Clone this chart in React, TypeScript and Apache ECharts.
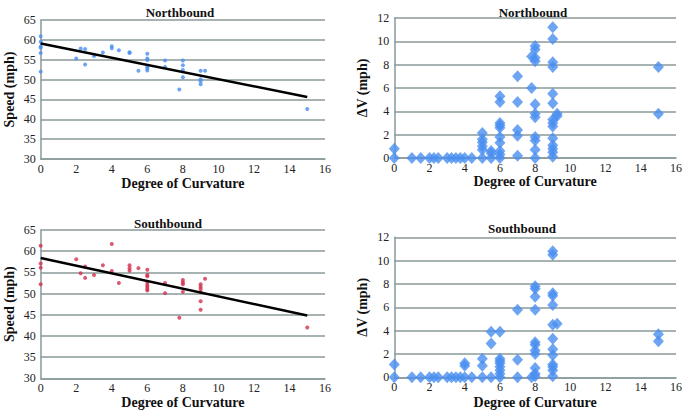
import React, { useEffect, useRef } from "react";
import * as echarts from "echarts";

// Northbound speed vs degree of curvature [x, speed]
const nbSpeedPoints: number[][] = [
  [0, 60.9], [0, 59.5], [0, 58.3], [0, 58.0], [0, 56.7], [0, 52.0],
  [2, 55.3], [2.25, 57.8], [2.5, 57.7], [2.5, 53.8], [3, 55.9], [3.5, 56.8],
  [4, 58.4], [4, 57.9], [4.4, 57.4], [5, 56.9], [5, 56.7], [5.5, 52.2],
  [6, 56.5], [6, 55.3], [6, 54.9], [6, 53.2], [6, 52.8], [6, 52.3],
  [7, 54.8], [7, 53.2], [7.8, 47.5], [8, 54.8], [8, 53.6], [8, 52.4], [8, 50.6],
  [9, 52.2], [9, 50.1], [9, 49.6], [9, 48.8], [9.25, 52.2], [15, 42.6],
];
const nbTrend: number[][] = [[0, 59.1], [15, 45.6]];

// Northbound delta V [x, dV]
const nbDeltaPoints: number[][] = [
  [0, 0], [0, 0.8], [1, 0], [1.5, 0], [2, 0], [2.25, 0], [2.5, 0], [3, 0], [3.25, 0],
  [3.5, 0], [3.75, 0], [4, 0], [4.4, 0],
  [5, 0], [5, 0.7], [5, 1.0], [5, 1.35], [5, 1.6], [5, 2.15],
  [5.5, 0], [5.5, 0.4], [5.5, 0.6],
  [6, 0], [6, 0.3], [6, 0.6], [6, 1.3], [6, 1.8], [6, 2.6], [6, 2.8], [6, 3.0], [6, 4.8], [6, 5.3],
  [7, 0.2], [7, 1.9], [7, 2.4], [7, 4.8], [7, 7.0],
  [7.8, 6.0], [7.8, 8.7],
  [8, 0], [8, 0.7], [8, 1.5], [8, 1.8], [8, 3.5], [8, 3.8], [8, 4.6], [8, 8.3], [8, 8.6], [8, 9.3], [8, 9.6],
  [9, 0.1], [9, 0.5], [9, 0.8], [9, 1.1], [9, 1.7], [9, 2.7], [9, 3.0], [9, 3.3], [9, 4.7], [9, 5.5],
  [9, 7.8], [9, 8.2], [9, 10.2], [9, 11.2],
  [9.25, 3.6], [9.25, 3.8], [15, 3.8], [15, 7.8],
];

// Southbound speed [x, speed]
const sbSpeedPoints: number[][] = [
  [0, 61.3], [0, 57.1], [0, 56.1], [0, 52.2], [2, 58.1], [2.25, 54.8], [2.5, 56.4], [2.5, 53.7],
  [3, 54.4], [3.5, 56.7], [4, 61.7], [4, 55.3], [4.4, 52.5], [5, 56.7], [5, 56.0], [5, 55.4],
  [5.5, 56.0], [6, 55.6], [6, 54.4], [6, 54.1], [6, 52.6], [6, 52.0], [6, 51.6], [6, 51.1], [6, 50.7],
  [7, 52.5], [7, 50.1], [7.8, 44.3], [8, 53.2], [8, 52.6], [8, 52.2], [8, 50.4],
  [9, 52.2], [9, 51.6], [9, 51.1], [9, 50.4], [9, 48.2], [9, 46.2], [9.25, 53.5], [15, 42.0],
];
const sbTrend: number[][] = [[0, 58.4], [15, 44.8]];

// Southbound delta V [x, dV]
const sbDeltaPoints: number[][] = [
  [0, 0], [0, 1.1], [1, 0], [1.5, 0], [2, 0], [2.25, 0], [2.5, 0], [3, 0], [3.25, 0],
  [3.5, 0], [3.75, 0], [4, 0], [4, 1.0], [4, 1.2], [4.4, 0],
  [5, 0], [5, 1.0], [5, 1.6], [5.5, 0], [5.5, 2.9], [5.5, 3.9],
  [6, 0], [6, 0.3], [6, 0.6], [6, 0.9], [6, 1.2], [6, 1.4], [6, 1.6], [6, 3.9],
  [7, 0], [7, 1.5], [7, 5.8], [7.8, 0],
  [8, 0.1], [8, 0.3], [8, 0.8], [8, 2.0], [8, 2.3], [8, 2.8], [8, 3.0], [8, 5.8], [8, 6.9], [8, 7.6], [8, 7.8],
  [9, 0.1], [9, 0.6], [9, 0.9], [9, 1.1], [9, 1.9], [9, 2.4], [9, 3.3], [9, 4.5], [9, 6.2], [9, 7.0], [9, 7.2],
  [9, 10.5], [9, 10.8], [9.25, 4.6], [15, 3.1], [15, 3.7],
];

const titles = ["Northbound", "Northbound", "Southbound", "Southbound"];
const speedTicks = { min: 30, max: 65, interval: 5 };
const deltaTicks = { min: 0, max: 12, interval: 2 };
const xTicks = { min: 0, max: 16, interval: 2 };

const SERIF = "Liberation Serif";
const BLUE = "#4a8ef0";
const RED = "#d3304e";
const GRID = "#8a9a9a";

export default function App() {
  const ref = useRef<HTMLDivElement>(null);
  useEffect(() => {
    if (!ref.current) return;
    const chart = echarts.init(ref.current, undefined, { renderer: "svg" });
    const grids = [
      { left: 40.7, top: 20, width: 284.3, height: 139 },
      { left: 394.3, top: 18, width: 285.7, height: 140 },
      { left: 40.7, top: 230, width: 284.3, height: 148.3 },
      { left: 394.3, top: 237.3, width: 284.7, height: 140 },
    ];
    const titlePos = [
      { left: 175, top: 1 },
      { left: 528, top: 1 },
      { left: 163, top: 212 },
      { left: 517, top: 217 },
    ];
    const xNameGap = [17, 15, 16, 18];
    const axisLabel = { fontFamily: SERIF, fontSize: 12, color: "#222", margin: 5 };
    const nameStyle = { fontFamily: SERIF, fontSize: 14, fontWeight: "bold" as const, color: "#111" };
    const option: any = {
      animation: false,
      backgroundColor: "#fff",
      title: titles.map((t, i) => ({
        text: t,
        left: titlePos[i].left,
        top: titlePos[i].top,
        textAlign: "center",
        textStyle: { fontFamily: SERIF, fontSize: 13, fontWeight: "bold", color: "#111" },
      })),
      grid: grids.map((g) => ({ ...g, containLabel: false })),
      xAxis: grids.map((_, i) => ({
        type: "value",
        gridIndex: i,
        ...xTicks,
        name: "Degree of Curvature",
        nameLocation: "middle",
        nameGap: xNameGap[i],
        nameTextStyle: nameStyle,
        axisLine: { show: true, lineStyle: { color: GRID, width: 1.5 } },
        axisTick: { show: false },
        splitLine: { show: false },
        axisLabel: { ...axisLabel, margin: 4 },
      })),
      yAxis: grids.map((_, i) => ({
        type: "value",
        gridIndex: i,
        ...(i % 2 === 0 ? speedTicks : deltaTicks),
        name: i % 2 === 0 ? "Speed (mph)" : "ΔV (mph)",
        nameLocation: "middle",
        nameGap: i % 2 === 0 ? 24 : 25,
        nameTextStyle: nameStyle,
        axisLine: { show: true, lineStyle: { color: GRID, width: 1.5 } },
        axisTick: { show: false },
        splitLine: { show: true, lineStyle: { color: GRID, width: 1.5 } },
        axisLabel,
      })),
      series: [
        {
          type: "scatter", xAxisIndex: 0, yAxisIndex: 0, data: nbSpeedPoints,
          symbol: "circle", symbolSize: 4, itemStyle: { color: BLUE },
        },
        {
          type: "line", xAxisIndex: 0, yAxisIndex: 0, data: nbTrend,
          symbol: "none", lineStyle: { color: "#000", width: 2.5 },
        },
        {
          type: "scatter", xAxisIndex: 1, yAxisIndex: 1, data: nbDeltaPoints,
          symbol: "diamond", symbolSize: [11, 12], itemStyle: { color: BLUE },
        },
        {
          type: "scatter", xAxisIndex: 2, yAxisIndex: 2, data: sbSpeedPoints,
          symbol: "circle", symbolSize: 4, itemStyle: { color: RED },
        },
        {
          type: "line", xAxisIndex: 2, yAxisIndex: 2, data: sbTrend,
          symbol: "none", lineStyle: { color: "#000", width: 2.5 },
        },
        {
          type: "scatter", xAxisIndex: 3, yAxisIndex: 3, data: sbDeltaPoints,
          symbol: "diamond", symbolSize: [11, 12], itemStyle: { color: BLUE },
        },
      ],
    };
    chart.setOption(option);
    return () => chart.dispose();
  }, []);
  return (
    <div
      ref={ref}
      style={{ position: "fixed", left: 0, top: 0, width: 685, height: 412, background: "#fff" }}
    />
  );
}
